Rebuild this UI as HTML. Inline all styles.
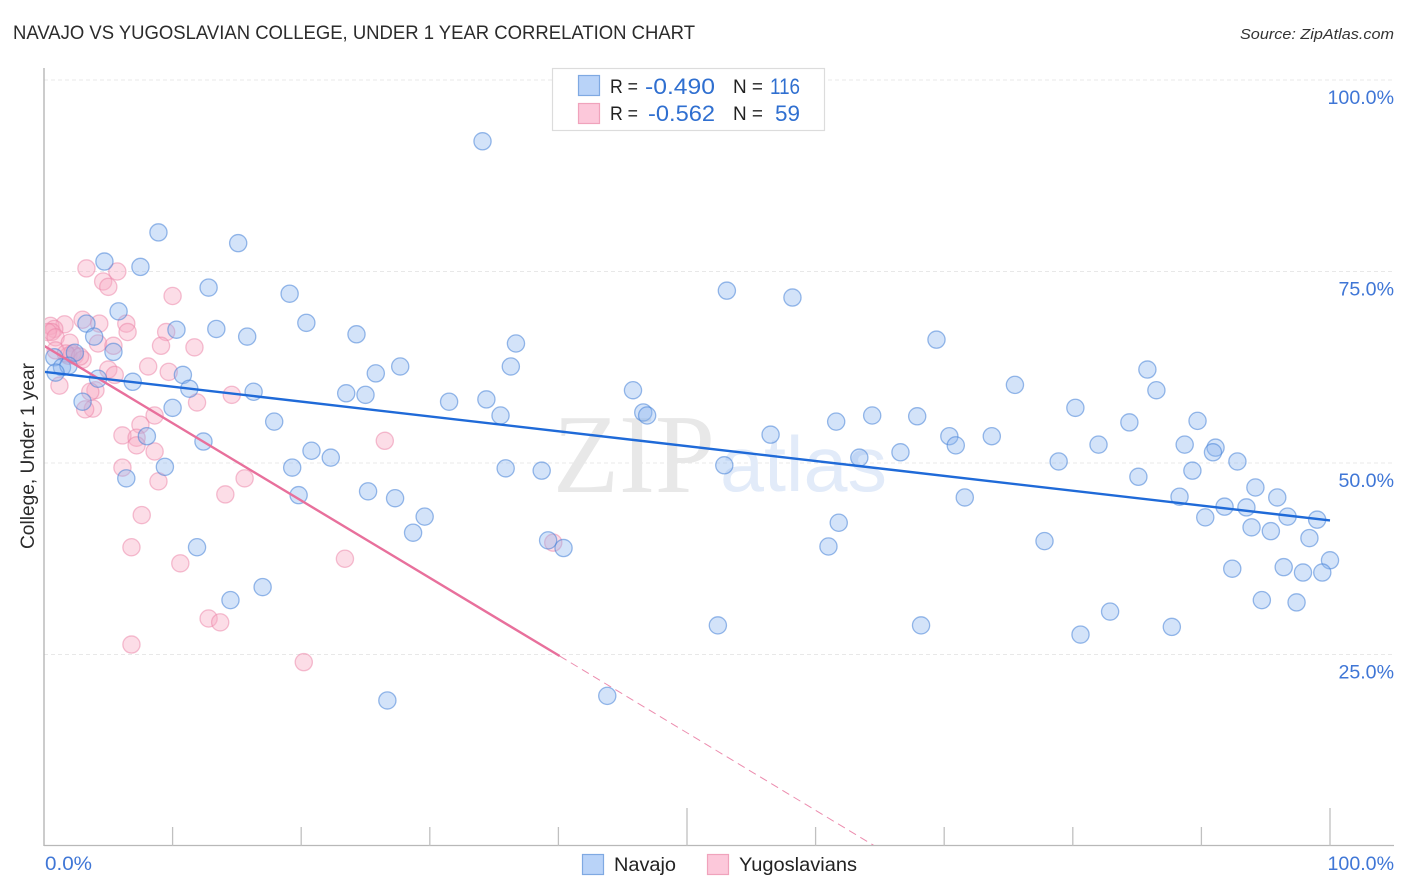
<!DOCTYPE html>
<html lang="en">
<head>
<meta charset="utf-8">
<title>Navajo vs Yugoslavian College, Under 1 Year Correlation Chart</title>
<style>
html,body{margin:0;padding:0;background:#fff;width:1406px;height:892px;overflow:hidden}
svg{display:block;font-family:"Liberation Sans",sans-serif}
</style>
</head>
<body>
<svg id="chart" xmlns="http://www.w3.org/2000/svg" width="1406" height="892" viewBox="0 0 1406 892">
  <defs><clipPath id="plot-clip"><rect x="45" y="60" width="1350" height="785"/></clipPath></defs>
  <text x="13" y="39" font-size="19" fill="#2b2b2b" textLength="682" lengthAdjust="spacingAndGlyphs">NAVAJO VS YUGOSLAVIAN COLLEGE, UNDER 1 YEAR CORRELATION CHART</text>
  <text x="1394" y="39" font-size="15" font-style="italic" fill="#333" text-anchor="end" textLength="154" lengthAdjust="spacingAndGlyphs">Source: ZipAtlas.com</text>
  <g id="grid"></g>
  <g>
    <text x="553" y="492" font-family="'Liberation Serif',serif" font-size="112" fill="#e8e8e8" textLength="162" lengthAdjust="spacingAndGlyphs">ZIP</text>
    <text x="720" y="491" font-size="78" fill="#e2ebf9" textLength="167" lengthAdjust="spacingAndGlyphs">atlas</text>
  </g>
  <g id="axes"></g>
  <g id="marks" clip-path="url(#plot-clip)"></g>
  <g id="ticklabels"></g>
  <text transform="translate(34,456) rotate(-90)" font-size="19" fill="#2b2b2b" text-anchor="middle" textLength="186" lengthAdjust="spacingAndGlyphs">College, Under 1 year</text>

  <g>
    <rect x="552.5" y="68.5" width="272" height="62" fill="#fff" stroke="#dcdcdc" stroke-width="1.2"/>
    <rect x="578.5" y="75.5" width="21" height="20" fill="#b9d3f8" stroke="#7fa9e2" stroke-width="1.2"/>
    <rect x="578.5" y="103.5" width="21" height="20" fill="#fcc8da" stroke="#f0a3bc" stroke-width="1.2"/>
    <g font-size="19" fill="#222">
      <text x="610" y="93" textLength="28" lengthAdjust="spacingAndGlyphs">R =</text>
      <text x="733" y="93" textLength="30" lengthAdjust="spacingAndGlyphs">N =</text>
      <text x="610" y="120" textLength="28" lengthAdjust="spacingAndGlyphs">R =</text>
      <text x="733" y="120" textLength="30" lengthAdjust="spacingAndGlyphs">N =</text>
    </g>
    <g font-size="22" fill="#2f6fd0">
      <text x="645" y="94" textLength="70" lengthAdjust="spacingAndGlyphs">-0.490</text>
      <text x="770" y="94" textLength="30" lengthAdjust="spacingAndGlyphs">116</text>
      <text x="648" y="121" textLength="67" lengthAdjust="spacingAndGlyphs">-0.562</text>
      <text x="775" y="121" textLength="25" lengthAdjust="spacingAndGlyphs">59</text>
    </g>
  </g>

  <g>
    <rect x="582.5" y="854.5" width="21" height="20" fill="#b9d3f8" stroke="#7fa9e2" stroke-width="1.2"/>
    <text x="614" y="871" font-size="19.5" fill="#222" textLength="62" lengthAdjust="spacingAndGlyphs">Navajo</text>
    <rect x="707.5" y="854.5" width="21" height="20" fill="#fcc8da" stroke="#f0a3bc" stroke-width="1.2"/>
    <text x="739" y="871" font-size="19.5" fill="#222" textLength="118" lengthAdjust="spacingAndGlyphs">Yugoslavians</text>
  </g>
</svg>
<script>
const navajoX = [34.1,8.9,15.1,4.7,7.5,12.8,19.1,53.1,58.2,5.8,20.4,3.3,10.3,13.4,24.3,15.8,3.9,69.4,36.7,5.4,2.4,0.8,27.7,36.3,85.8,1.4,1.9,0.9,25.8,10.8,4.2,6.9,75.5,11.3,16.3,45.8,86.5,23.5,25.0,34.4,31.5,3.0,10.0,80.2,46.6,46.9,35.5,61.6,64.4,67.9,17.9,84.4,89.7,56.5,73.7,70.4,8.0,12.4,70.9,82.0,88.7,91.1,90.9,20.8,66.6,22.3,63.4,92.8,78.9,9.4,52.9,19.3,35.9,38.7,89.3,85.1,6.4,94.2,25.2,19.8,27.3,71.6,88.3,95.9,91.8,93.5,29.6,96.7,90.3,99.0,61.8,93.9,95.4,28.7,77.8,98.4,39.2,11.9,61.0,40.4,100.0,92.4,96.4,97.9,99.4,17.0,14.5,94.7,97.4,82.9,52.4,68.2,87.7,80.6,43.8,26.7];
const navajoY = [92.0,80.1,78.7,76.3,75.6,72.9,72.1,72.5,71.6,69.8,68.3,68.2,67.4,67.5,66.8,66.5,66.5,66.1,65.6,64.5,64.4,63.8,62.6,62.6,62.2,62.5,62.7,61.8,61.7,61.5,61.0,60.6,60.2,59.7,59.3,59.5,59.5,59.1,58.9,58.3,58.0,58.0,57.2,57.2,56.6,56.2,56.2,55.4,56.2,56.1,55.4,55.3,55.5,53.7,53.5,53.5,53.5,52.8,52.3,52.4,52.4,52.0,51.4,51.6,51.4,50.7,50.7,50.2,50.2,49.5,49.7,49.4,49.3,49.0,49.0,48.2,48.0,46.8,46.3,45.8,45.4,45.5,45.6,45.5,44.3,44.2,43.0,43.0,42.9,42.6,42.2,41.6,41.1,40.9,39.8,40.2,39.9,39.0,39.1,38.9,37.3,36.2,36.4,35.7,35.7,33.8,32.1,32.1,31.8,30.6,28.8,28.8,28.6,27.6,19.6,19.0];
const yugoX = [3.3,5.7,4.6,5.0,10.0,3.0,6.4,4.3,1.6,0.5,0.8,6.5,9.5,0.6,0.3,0.9,4.2,2.0,5.4,9.1,11.7,0.9,1.9,2.4,2.2,3.0,8.1,9.7,5.0,5.5,1.2,4.0,3.6,14.6,11.9,3.8,3.2,8.6,7.5,26.5,6.1,7.2,7.2,8.6,6.1,8.9,15.6,14.1,7.6,39.6,6.8,23.4,10.6,12.8,13.7,6.8,20.2,1.7,2.8];
const yugoY = [75.4,75.0,73.7,73.0,71.8,68.7,68.2,68.2,68.1,67.9,67.5,67.1,67.1,67.1,67.1,66.4,65.6,65.7,65.3,65.3,65.1,64.7,64.0,64.0,64.3,63.5,62.6,61.9,62.2,61.5,60.1,59.5,59.3,58.9,57.9,57.1,57.0,56.2,55.0,52.9,53.6,53.3,52.3,51.5,49.4,47.6,48.0,45.9,43.2,39.6,39.0,37.5,36.9,29.7,29.2,26.3,24.0,64.3,63.9];
const navajoTrendX = [0,100];
const navajoTrendY = [61.9,42.5];
const yugoTrendX = [0,40.1];
const yugoTrendY = [65.3,24.8];
const yugoDashX = [40.1,64.6];
const yugoDashY = [24.8,0];
const xTicks = [0,10,20,30,40,50,60,70,80,90,100];
const longXTicks = [50,100];
const yGrid = [25,50,75,100];
const yTickLabels = ['25.0%','50.0%','75.0%','100.0%'];
const xTickLabels = ['0.0%','100.0%'];

const NS = 'http://www.w3.org/2000/svg';
const sx = v => 44 + v * 12.86;
const sy = v => 846 - v * 7.66;
function make(tag, props, parent) {
  const el = document.createElementNS(NS, tag);
  for (const k in props) el.setAttribute(k, props[k]);
  parent.appendChild(el);
  return el;
}
const grid = document.getElementById('grid');
const axes = document.getElementById('axes');
const marks = document.getElementById('marks');
const labels = document.getElementById('ticklabels');

yGrid.forEach(function (v, i) {
  const line = make('line', {x1: 44, x2: 1394, y1: sy(v), y2: sy(v), stroke: '#e8e8e8', 'stroke-width': 1, 'stroke-dasharray': '4 3'}, grid);
  
  
  const t = make('text', {x: 1394, y: sy(v) + 24, 'font-size': 19.6, fill: '#3f76d6', 'text-anchor': 'end'}, labels);
  t.textContent = yTickLabels[i];
  
  
});

const yAxis = make('line', {x1: 44, x2: 44, y1: 68, y2: 846, stroke: '#b0b0b0', 'stroke-width': 1.3}, axes);


const xAxis = make('line', {x1: 44, x2: 1394, y1: 845.5, y2: 845.5, stroke: '#b8b8b8', 'stroke-width': 1.3}, axes);


xTicks.forEach(function (v) {
  if (v === 0) return;
  const top = longXTicks.includes(v) ? 808 : 827;
  const tick = make('line', {x1: sx(v), x2: sx(v), y1: top, y2: 846, stroke: '#c0c0c0', 'stroke-width': 1.3}, axes);
  
  
});
const xLabelLeft = make('text', {x: 45, y: 870, 'font-size': 19.6, fill: '#3f76d6', textLength: 47, lengthAdjust: 'spacingAndGlyphs'}, labels);
xLabelLeft.textContent = xTickLabels[0];


const xLabelRight = make('text', {x: 1394, y: 870, 'font-size': 19.6, fill: '#3f76d6', 'text-anchor': 'end'}, labels);
xLabelRight.textContent = xTickLabels[1];



yugoX.forEach(function (v, i) {
  const c = make('circle', {cx: sx(v), cy: sy(yugoY[i]), r: 8.6, fill: 'rgba(248,170,195,0.4)', stroke: 'rgba(235,130,165,0.5)', 'stroke-width': 1.3}, marks);
  
  
});
navajoX.forEach(function (v, i) {
  const c = make('circle', {cx: sx(v), cy: sy(navajoY[i]), r: 8.6, fill: 'rgba(140,182,240,0.38)', stroke: 'rgba(70,130,215,0.55)', 'stroke-width': 1.3}, marks);
  
  
});

const yugoTrend = make('line', {x1: sx(yugoTrendX[0]), y1: sy(yugoTrendY[0]), x2: sx(yugoTrendX[1]), y2: sy(yugoTrendY[1]), stroke: '#e8709c', 'stroke-width': 2.4}, marks);


const yugoDash = make('line', {x1: sx(yugoDashX[0]), y1: sy(yugoDashY[0]), x2: sx(yugoDashX[1]), y2: sy(yugoDashY[1]), stroke: '#ec8cae', 'stroke-width': 1, 'stroke-dasharray': '8 5'}, marks);


const navajoTrend = make('line', {x1: sx(navajoTrendX[0]), y1: sy(navajoTrendY[0]), x2: sx(navajoTrendX[1]), y2: sy(navajoTrendY[1]), stroke: '#1f6ad8', 'stroke-width': 2.4}, marks);


</script>
</body>
</html>
